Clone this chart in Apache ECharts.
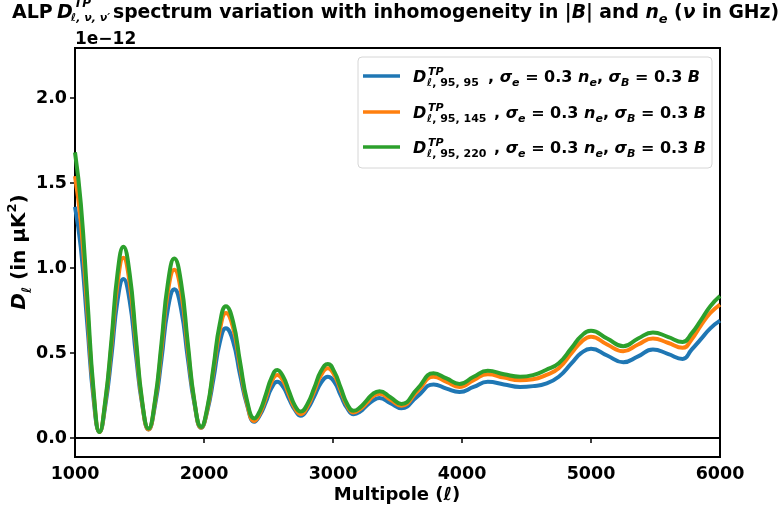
<!DOCTYPE html>
<html><head><meta charset="utf-8">
<script src="https://cdn.jsdelivr.net/npm/echarts@6/dist/echarts.min.js"></script>
<style>html,body{margin:0;padding:0;background:#fff}#c{width:784px;height:510px}</style>
</head><body><div id="c"></div>
<script>
// Multipole values (shared x positions)
const ell = [1000, 1045, 1095, 1145, 1190, 1235, 1283, 1330, 1375, 1423, 1472, 1520, 1570, 1620, 1670, 1720, 1770, 1822, 1874, 1926, 1978, 2026, 2074, 2122, 2170, 2225, 2280, 2335, 2390, 2434, 2479, 2524, 2568, 2614, 2659, 2705, 2750, 2802, 2855, 2908, 2960, 3010, 3060, 3110, 3160, 3210, 3260, 3310, 3360, 3445, 3530, 3655, 3780, 3880, 3980, 4090, 4200, 4325, 4450, 4550, 4650, 4750, 4850, 4925, 5000, 5125, 5250, 5365, 5480, 5595, 5710, 5780, 5850, 5925, 6000];
// D_ell in units of 1e-12 muK^2
const d95_95 = [1.36, 1.12, 0.67, 0.22, 0.035, 0.19, 0.485, 0.81, 0.935, 0.81, 0.49, 0.20, 0.05, 0.19, 0.46, 0.76, 0.875, 0.76, 0.47, 0.20, 0.06, 0.16, 0.35, 0.56, 0.645, 0.57, 0.37, 0.19, 0.095, 0.135, 0.21, 0.295, 0.33, 0.30, 0.23, 0.165, 0.13, 0.17, 0.245, 0.325, 0.36, 0.33, 0.25, 0.175, 0.14, 0.155, 0.19, 0.22, 0.235, 0.205, 0.175, 0.245, 0.315, 0.29, 0.27, 0.30, 0.33, 0.315, 0.30, 0.305, 0.32, 0.36, 0.44, 0.50, 0.525, 0.485, 0.445, 0.48, 0.52, 0.495, 0.465, 0.52, 0.58, 0.645, 0.69];
const d95_145 = [1.54, 1.27, 0.76, 0.25, 0.035, 0.21, 0.55, 0.91, 1.06, 0.915, 0.555, 0.21, 0.05, 0.21, 0.52, 0.86, 0.99, 0.86, 0.525, 0.21, 0.06, 0.17, 0.40, 0.63, 0.735, 0.65, 0.42, 0.20, 0.10, 0.145, 0.235, 0.33, 0.37, 0.335, 0.255, 0.175, 0.14, 0.185, 0.275, 0.37, 0.41, 0.37, 0.28, 0.19, 0.15, 0.17, 0.205, 0.245, 0.26, 0.225, 0.19, 0.275, 0.36, 0.33, 0.30, 0.34, 0.375, 0.355, 0.34, 0.345, 0.37, 0.41, 0.50, 0.565, 0.595, 0.55, 0.51, 0.55, 0.585, 0.56, 0.53, 0.58, 0.66, 0.735, 0.785];
const d95_220 = [1.68, 1.38, 0.83, 0.27, 0.035, 0.22, 0.58, 0.97, 1.125, 0.97, 0.59, 0.22, 0.055, 0.22, 0.555, 0.91, 1.055, 0.915, 0.56, 0.215, 0.065, 0.18, 0.42, 0.67, 0.775, 0.685, 0.445, 0.215, 0.115, 0.16, 0.255, 0.355, 0.40, 0.36, 0.275, 0.19, 0.155, 0.20, 0.295, 0.395, 0.435, 0.39, 0.295, 0.20, 0.16, 0.18, 0.22, 0.26, 0.275, 0.24, 0.20, 0.29, 0.38, 0.35, 0.318, 0.36, 0.395, 0.375, 0.36, 0.37, 0.40, 0.44, 0.53, 0.60, 0.63, 0.585, 0.54, 0.585, 0.62, 0.595, 0.565, 0.615, 0.69, 0.775, 0.835];
const nuLabels = ['95, 95', '95, 145', '95, 220'];
const yTicks = [0, 0.5, 1.0, 1.5, 2.0];
const colors = ['#1f77b4', '#ff7f0e', '#2ca02c'];

const FF = '"DejaVu Sans"';
const chart = echarts.init(document.getElementById('c'), null, {renderer: 'canvas'});
const pair = arr => ell.map((x, i) => [x, arr[i]]);
const allSeries = [d95_95, d95_145, d95_220];

const graphics = [];
// Title
graphics.push({type: 'text', x: 12, y: 13, style: {text: 'ALP', font: 'bold 19px ' + FF, fill: '#000', textAlign: 'left', textVerticalAlign: 'middle'}});
graphics.push({type: 'text', x: 57, y: 13, style: {text: 'D', font: 'italic bold 19px ' + FF, fill: '#000', textAlign: 'left', textVerticalAlign: 'middle'}});
graphics.push({type: 'text', x: 74, y: 4, style: {text: 'TP', font: 'italic bold 12px ' + FF, fill: '#000', textAlign: 'left', textVerticalAlign: 'middle'}});
graphics.push({type: 'text', x: 71, y: 18, style: {text: 'ℓ, ν, ν′', font: 'italic bold 11px ' + FF, fill: '#000', textAlign: 'left', textVerticalAlign: 'middle'}});
graphics.push({type: 'text', x: 113, y: 13, style: {
  text: '{t|spectrum variation with inhomogeneity in |}{i|B}{t|| and }{i|n}{s|e}{t| (}{i|ν}{t| in GHz)}',
  textAlign: 'left', textVerticalAlign: 'middle', fill: '#000',
  rich: {
    t: {font: 'bold 18.8px ' + FF, lineHeight: 26, verticalAlign: 'middle', fill: '#000'},
    i: {font: 'italic bold 18.8px ' + FF, lineHeight: 26, verticalAlign: 'middle', fill: '#000'},
    s: {font: 'italic bold 13px ' + FF, lineHeight: 14, verticalAlign: 'bottom', fill: '#000'}
  }}});
// Offset text
graphics.push({type: 'text', x: 75, y: 40, style: {text: '1e\u221212', font: 'bold 17px ' + FF, fill: '#000', textAlign: 'left', textVerticalAlign: 'middle'}});
// Axis titles
graphics.push({type: 'text', x: 397, y: 495, style: {
  text: '{t|Multipole (}{i|ℓ}{t|)}', textAlign: 'center', textVerticalAlign: 'middle',
  rich: {t: {font: 'bold 18px ' + FF, fill: '#000'}, i: {font: 'italic bold 18px ' + FF, fill: '#000'}}}});
graphics.push({type: 'text', x: 20, y: 252, rotation: Math.PI / 2, style: {
  text: '{i|D}{s|ℓ}{t| (in μK}{p|2}{t|)}', textAlign: 'center', textVerticalAlign: 'middle',
  rich: {
    t: {font: 'bold 20px ' + FF, lineHeight: 28, verticalAlign: 'middle', fill: '#000'},
    i: {font: 'italic bold 20px ' + FF, lineHeight: 28, verticalAlign: 'middle', fill: '#000'},
    s: {font: 'italic bold 13px ' + FF, lineHeight: 15, verticalAlign: 'bottom', fill: '#000'},
    p: {font: 'bold 13px ' + FF, lineHeight: 15, verticalAlign: 'top', fill: '#000'}
  }}});
// Legend
graphics.push({type: 'rect', shape: {x: 358, y: 57, width: 354, height: 111, r: 4}, style: {fill: 'rgba(255,255,255,0.8)', stroke: '#d6d6d6', lineWidth: 1}, z: 10});
const rowY = [76, 112, 147];
const restX = [488, 494, 494];
nuLabels.forEach((lab, k) => {
  const y = rowY[k];
  graphics.push({type: 'line', shape: {x1: 363, y1: y, x2: 400, y2: y}, style: {stroke: colors[k], lineWidth: 3.5}, z: 11});
  graphics.push({type: 'text', x: 413, y: y + 2, z: 11, style: {text: 'D', font: 'italic bold 16px ' + FF, fill: '#000', textAlign: 'left', textVerticalAlign: 'middle'}});
  graphics.push({type: 'text', x: 428, y: y - 4, z: 11, style: {text: 'TP', font: 'italic bold 11px ' + FF, fill: '#000', textAlign: 'left', textVerticalAlign: 'middle'}});
  graphics.push({type: 'text', x: 427, y: y + 7, z: 11, style: {
    text: '{i|ℓ}{t|, ' + lab + '}', textAlign: 'left', textVerticalAlign: 'middle',
    rich: {i: {font: 'italic bold 11px ' + FF, fill: '#000'}, t: {font: 'bold 11px ' + FF, fill: '#000'}}}});
  graphics.push({type: 'text', x: restX[k], y: y + 2, z: 11, style: {
    text: '{t|, }{i|σ}{s|e}{t| = 0.3 }{i|n}{s|e}{t|, }{i|σ}{s|B}{t| = 0.3 }{i|B}',
    textAlign: 'left', textVerticalAlign: 'middle',
    rich: {
      t: {font: 'bold 16px ' + FF, lineHeight: 22, verticalAlign: 'middle', fill: '#000'},
      i: {font: 'italic bold 16px ' + FF, lineHeight: 22, verticalAlign: 'middle', fill: '#000'},
      s: {font: 'italic bold 11px ' + FF, lineHeight: 12, verticalAlign: 'bottom', fill: '#000'}
    }}});
});

chart.setOption({
  animation: false,
  backgroundColor: '#fff',
  grid: {left: 75, right: 64, top: 48, bottom: 53, show: true, borderColor: '#000', borderWidth: 2, backgroundColor: 'transparent'},
  xAxis: {
    type: 'value', min: 1000, max: 6000, interval: 1000,
    axisLine: {show: true, lineStyle: {color: '#000', width: 2}},
    axisTick: {show: true, inside: false, length: 5, lineStyle: {color: '#000', width: 1.5}},
    axisLabel: {color: '#000', fontFamily: FF, fontWeight: 'bold', fontSize: 17.5, margin: 8, formatter: v => String(Math.round(v))},
    splitLine: {show: false}
  },
  yAxis: {
    type: 'value', min: -0.112, max: 2.294,
    axisLine: {show: true, lineStyle: {color: '#000', width: 2}},
    axisTick: {show: true, inside: false, length: 5, lineStyle: {color: '#000', width: 1.5}, customValues: yTicks},
    axisLabel: {color: '#000', fontFamily: FF, fontWeight: 'bold', fontSize: 17.5, margin: 8, customValues: yTicks, formatter: v => v.toFixed(1)},
    splitLine: {show: false}
  },
  series: allSeries.map((arr, k) => ({
    type: 'line', name: 'D' + nuLabels[k], data: pair(arr), smooth: 0.5, showSymbol: false,
    lineStyle: {color: colors[k], width: 4}, itemStyle: {color: colors[k]}, z: 2 + k
  })),
  graphic: graphics
});
</script>
</body></html>
